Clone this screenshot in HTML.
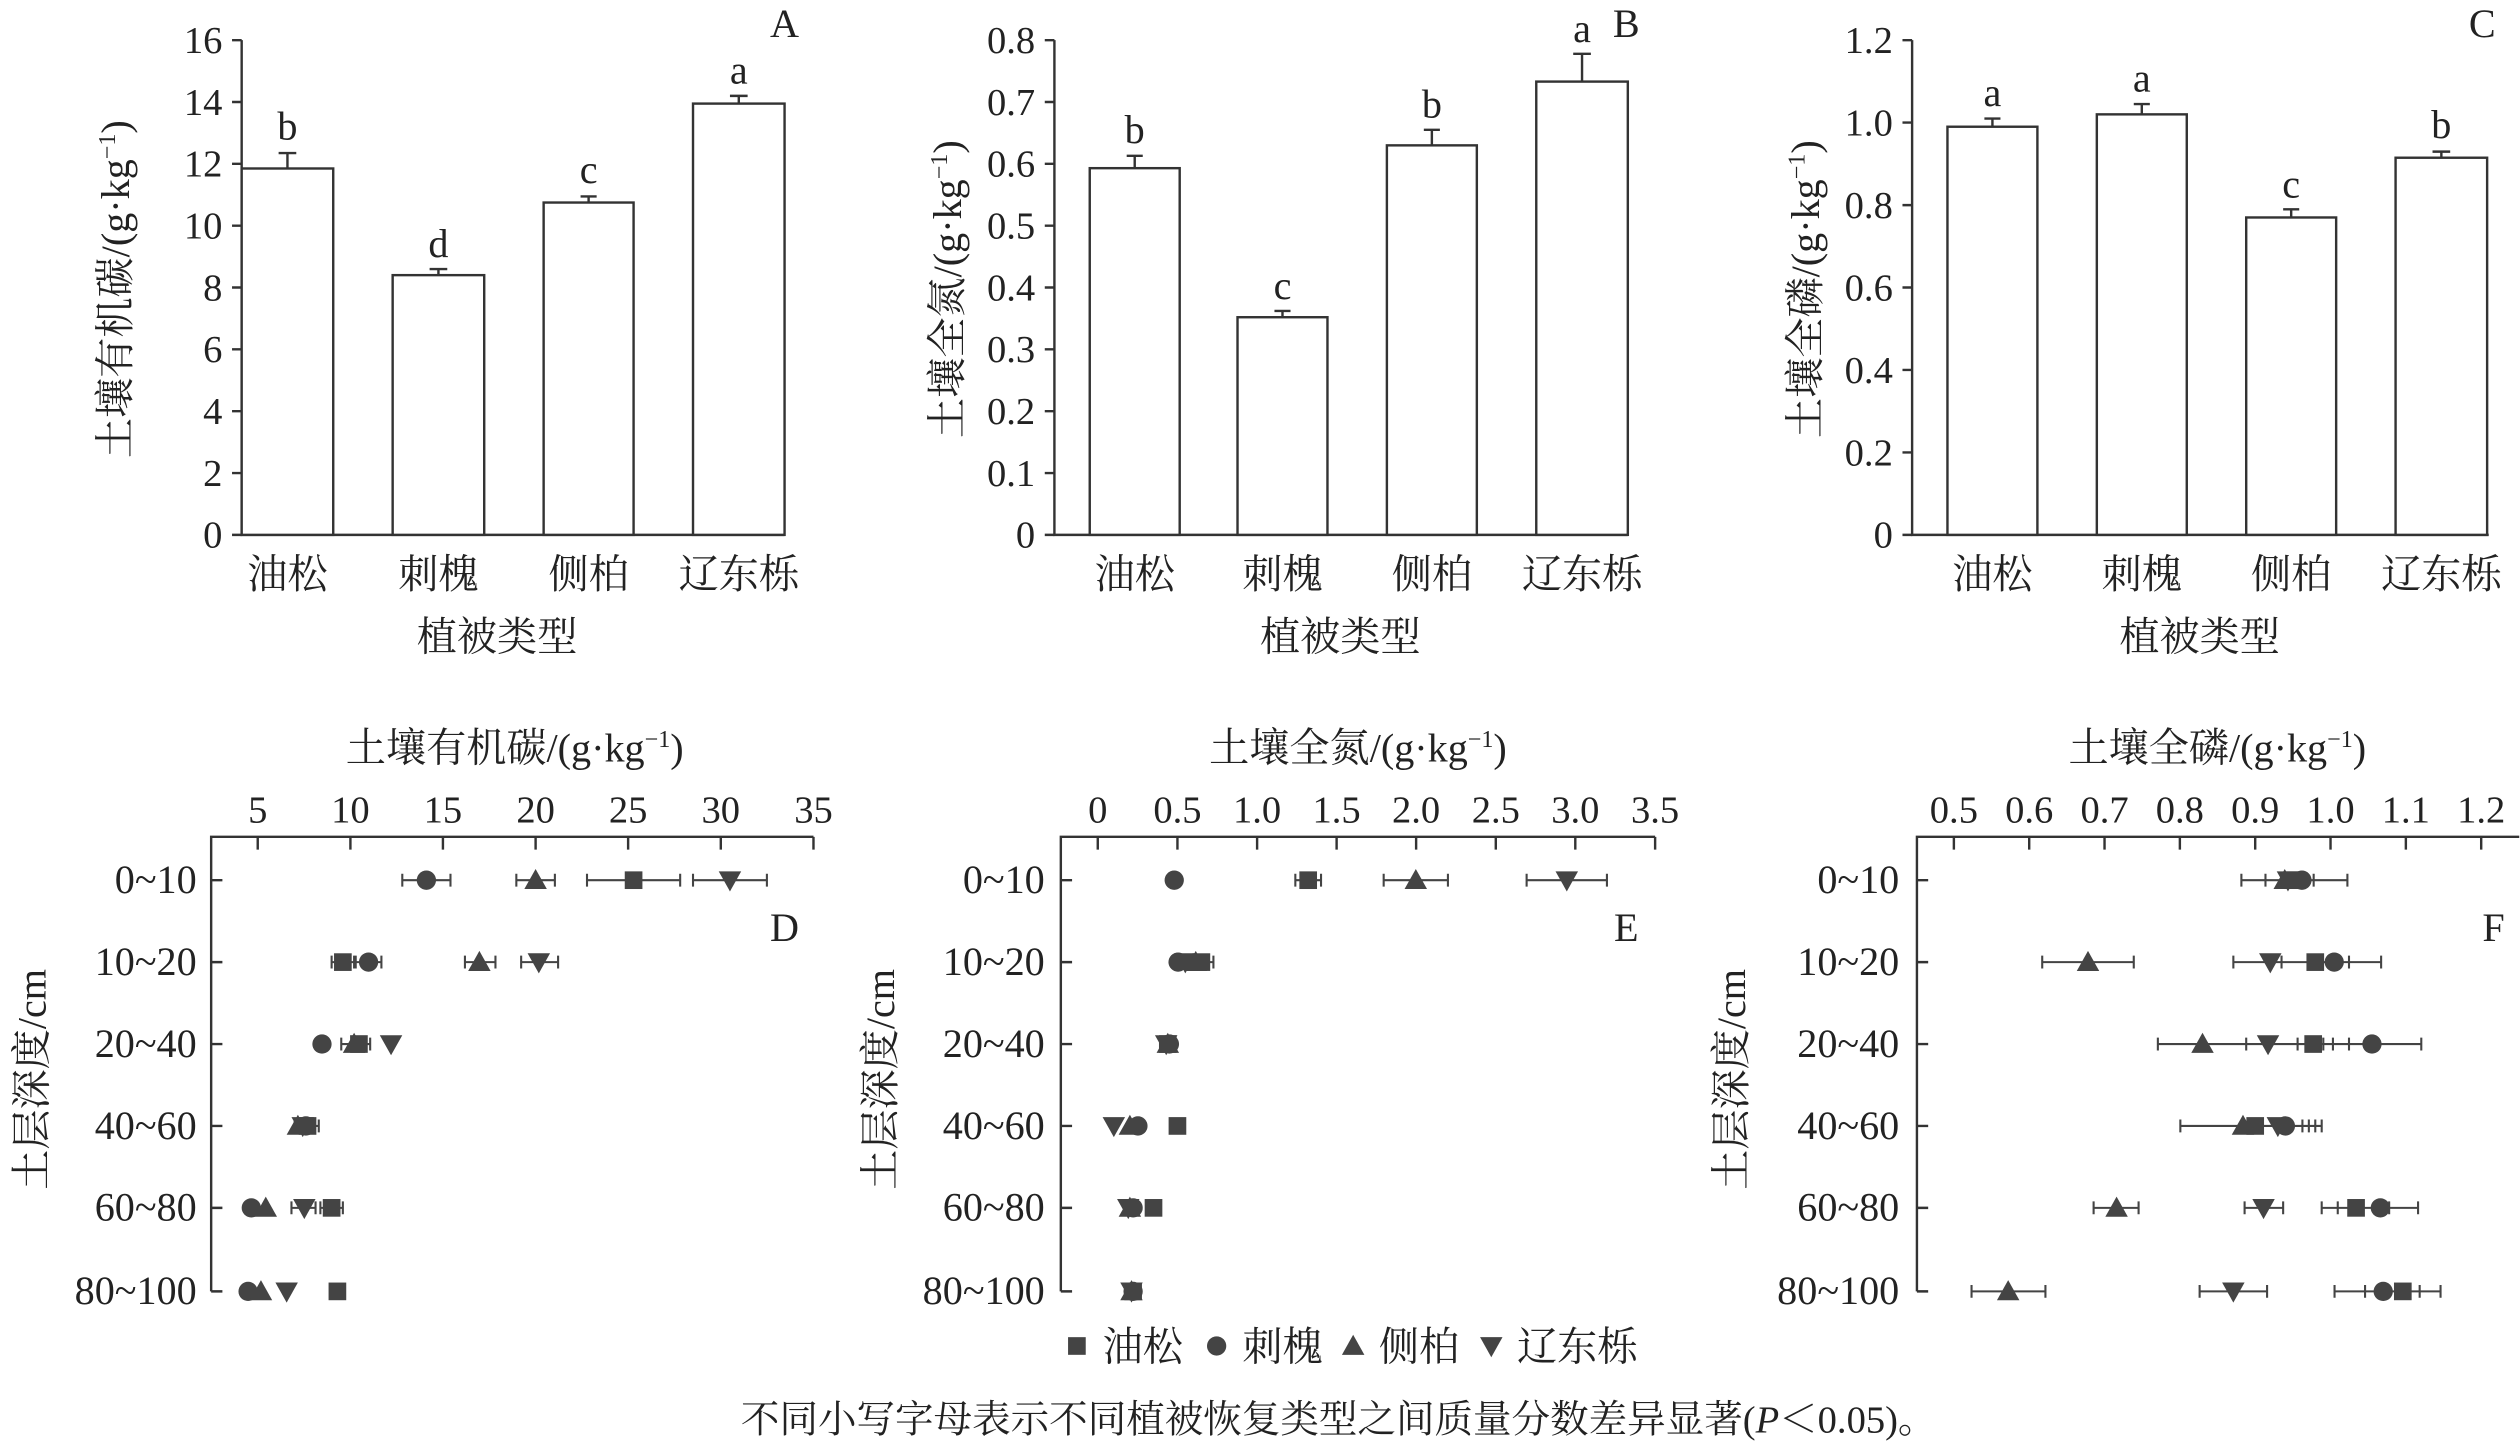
<!DOCTYPE html>
<html><head><meta charset="utf-8">
<style>
html,body{margin:0;padding:0;background:#fff;}
svg{display:block;}
svg text{font-family:'Liberation Serif','Noto Serif CJK SC',serif;fill:#222;}
</style></head>
<body>
<svg width="2520" height="1452" viewBox="0 0 1568 904" xmlns="http://www.w3.org/2000/svg" font-family="'Liberation Serif', 'Noto Serif CJK SC', serif">
<defs>
<rect id="sq" x="-5.5" y="-5.5" width="11" height="11" fill="#444"/>
<circle id="ci" r="6" fill="#444"/>
<path id="tu" d="M0,-7 L7,5.5 L-7,5.5Z" fill="#444"/>
<path id="td" d="M0,7 L7,-5.5 L-7,-5.5Z" fill="#444"/>
</defs>
<g stroke="#333" stroke-width="1.5" fill="none">
<path d="M150,25 V333 H488"/>
<path d="M144,333H150M144,294.5H150M144,256H150M144,217.5H150M144,179H150M144,140.5H150M144,102H150M144,63.5H150M144,25H150"/>
<path d="M656,25 V333 H1013"/>
<path d="M650,333H656M650,294.5H656M650,256H656M650,217.5H656M650,179H656M650,140.5H656M650,102H656M650,63.5H656M650,25H656"/>
<path d="M1190,25 V333 H1549"/>
<path d="M1184,333H1190M1184,281.7H1190M1184,230.3H1190M1184,179H1190M1184,127.7H1190M1184,76.3H1190M1184,25H1190"/>
</g>
<g stroke="#333" stroke-width="1.5" fill="#fff">
<rect x="150" y="104.9" width="57" height="228.1"/>
<rect x="244" y="171.3" width="57" height="161.7"/>
<rect x="338" y="126.1" width="56" height="206.9"/>
<rect x="431" y="64.5" width="57" height="268.5"/>
<rect x="678" y="104.7" width="56" height="228.3"/>
<rect x="770" y="197.5" width="56" height="135.5"/>
<rect x="863" y="90.5" width="56" height="242.5"/>
<rect x="956" y="50.8" width="57" height="282.2"/>
<rect x="1212" y="78.9" width="56" height="254.1"/>
<rect x="1305" y="71.2" width="56" height="261.8"/>
<rect x="1398" y="135.4" width="56" height="197.6"/>
<rect x="1491" y="98.2" width="57" height="234.8"/>
</g>
<g stroke="#333" stroke-width="1.5" fill="none">
<path d="M178.5,104.9V95.3M173,95.3H184"/>
<path d="M272.5,171.3V167.5M267,167.5H278"/>
<path d="M366,126.1V122.3M361,122.3H371"/>
<path d="M459.5,64.5V59.7M454,59.7H465"/>
<path d="M706,104.7V97M701,97H711"/>
<path d="M798,197.5V193.6M793,193.6H803"/>
<path d="M891,90.5V80.8M886,80.8H896"/>
<path d="M984.5,50.8V33.5M979,33.5H990"/>
<path d="M1240,78.9V73.8M1235,73.8H1245"/>
<path d="M1333,71.2V64.8M1328,64.8H1338"/>
<path d="M1426,135.4V130.3M1421,130.3H1431"/>
<path d="M1519.5,98.2V94.4M1514,94.4H1525"/>
</g>
<g font-size="25" text-anchor="middle">
<text x="178.5" y="87">b</text><text x="272.5" y="160">d</text><text x="366" y="114">c</text><text x="459.5" y="52">a</text>
<text x="706" y="89">b</text><text x="798" y="186">c</text><text x="891" y="73">b</text><text x="984.5" y="26">a</text>
<text x="1240" y="66">a</text><text x="1333" y="57">a</text><text x="1426" y="123">c</text><text x="1519.5" y="86">b</text>
<text x="488" y="23">A</text><text x="1012" y="23">B</text><text x="1545" y="23">C</text>
</g>
<g font-size="24" text-anchor="end">
<text x="138" y="341">0</text><text x="138" y="302.5">2</text><text x="138" y="264">4</text><text x="138" y="225.5">6</text><text x="138" y="187">8</text><text x="138" y="148.5">10</text><text x="138" y="110">12</text><text x="138" y="71.5">14</text><text x="138" y="33">16</text>
<text x="644" y="341">0</text><text x="644" y="302.5">0.1</text><text x="644" y="264">0.2</text><text x="644" y="225.5">0.3</text><text x="644" y="187">0.4</text><text x="644" y="148.5">0.5</text><text x="644" y="110">0.6</text><text x="644" y="71.5">0.7</text><text x="644" y="33">0.8</text>
<text x="1178" y="341">0</text><text x="1178" y="289.7">0.2</text><text x="1178" y="238.3">0.4</text><text x="1178" y="187">0.6</text><text x="1178" y="135.7">0.8</text><text x="1178" y="84.3">1.0</text><text x="1178" y="33">1.2</text>
</g>
<g font-size="25" text-anchor="middle">
<text x="178.5" y="366">油松</text><text x="272.5" y="366">刺槐</text><text x="366" y="366">侧柏</text><text x="459.5" y="366">辽东栎</text>
<text x="706" y="366">油松</text><text x="798" y="366">刺槐</text><text x="891" y="366">侧柏</text><text x="984.5" y="366">辽东栎</text>
<text x="1240" y="366">油松</text><text x="1333" y="366">刺槐</text><text x="1426" y="366">侧柏</text><text x="1519.5" y="366">辽东栎</text>
<text x="309" y="405">植被类型</text><text x="834" y="405">植被类型</text><text x="1369" y="405">植被类型</text>
</g>
<g font-size="25" text-anchor="middle">
<text transform="translate(80,180) rotate(-90)">土壤有机碳/(g·kg<tspan dy="-9" font-size="15">−1</tspan><tspan dy="9">)</tspan></text>
<text transform="translate(598,180) rotate(-90)">土壤全氮/(g·kg<tspan dy="-9" font-size="15">−1</tspan><tspan dy="9">)</tspan></text>
<text transform="translate(1132,180) rotate(-90)">土壤全磷/(g·kg<tspan dy="-9" font-size="15">−1</tspan><tspan dy="9">)</tspan></text>
</g>

<g stroke="#333" stroke-width="1.5" fill="none">
<path d="M131,804V521H506"/>
<path d="M160,521v8M217.7,521v8M275.3,521v8M333,521v8M390.6,521v8M448.3,521v8M506,521v8"/>
<path d="M131,548h7M131,599h7M131,650h7M131,701h7M131,752h7M131,804h7"/>
<path d="M660,804V521H1030"/>
<path d="M683,521v8M732.6,521v8M782.2,521v8M831.7,521v8M881.2,521v8M930.8,521v8M980.3,521v8M1030,521v8"/>
<path d="M660,548h7M660,599h7M660,650h7M660,701h7M660,752h7M660,804h7"/>
<path d="M1193,804V521H1568"/>
<path d="M1216,521v8M1262.9,521v8M1309.8,521v8M1356.7,521v8M1403.6,521v8M1450.5,521v8M1497.4,521v8M1544.3,521v8"/>
<path d="M1193,548h7M1193,599h7M1193,650h7M1193,701h7M1193,752h7M1193,804h7"/>
</g>
<g font-size="24" text-anchor="middle">
<text x="160" y="512">5</text><text x="217.7" y="512">10</text><text x="275.3" y="512">15</text><text x="333" y="512">20</text><text x="390.6" y="512">25</text><text x="448.3" y="512">30</text><text x="506" y="512">35</text>
<text x="683" y="512">0</text><text x="732.6" y="512">0.5</text><text x="782.2" y="512">1.0</text><text x="831.7" y="512">1.5</text><text x="881.2" y="512">2.0</text><text x="930.8" y="512">2.5</text><text x="980.3" y="512">3.0</text><text x="1030" y="512">3.5</text>
<text x="1216" y="512">0.5</text><text x="1262.9" y="512">0.6</text><text x="1309.8" y="512">0.7</text><text x="1356.7" y="512">0.8</text><text x="1403.6" y="512">0.9</text><text x="1450.5" y="512">1.0</text><text x="1497.4" y="512">1.1</text><text x="1544.3" y="512">1.2</text>
</g>
<g font-size="25" text-anchor="middle">
<text x="320" y="474">土壤有机碳/(g·kg<tspan dy="-9" font-size="15">−1</tspan><tspan dy="9">)</tspan></text>
<text x="845" y="474">土壤全氮/(g·kg<tspan dy="-9" font-size="15">−1</tspan><tspan dy="9">)</tspan></text>
<text x="1380" y="474">土壤全磷/(g·kg<tspan dy="-9" font-size="15">−1</tspan><tspan dy="9">)</tspan></text>
<text transform="translate(28,672) rotate(-90)">土层深度/cm</text>
<text transform="translate(556,672) rotate(-90)">土层深度/cm</text>
<text transform="translate(1086,672) rotate(-90)">土层深度/cm</text>
<text x="488" y="586">D</text><text x="1012" y="586">E</text><text x="1552" y="586">F</text>
</g>
<g font-size="25" text-anchor="end">
<text x="122" y="556">0~10</text><text x="122" y="607">10~20</text><text x="122" y="658">20~40</text><text x="122" y="709">40~60</text><text x="122" y="760">60~80</text><text x="122" y="812">80~100</text>
<text x="650" y="556">0~10</text><text x="650" y="607">10~20</text><text x="650" y="658">20~40</text><text x="650" y="709">40~60</text><text x="650" y="760">60~80</text><text x="650" y="812">80~100</text>
<text x="1182" y="556">0~10</text><text x="1182" y="607">10~20</text><text x="1182" y="658">20~40</text><text x="1182" y="709">40~60</text><text x="1182" y="760">60~80</text><text x="1182" y="812">80~100</text>
</g>

<g stroke="#444" stroke-width="1.3" fill="none">
<path d="M250,548H280M250,544v8M280,544v8"/>
<path d="M321,548H345M321,544v8M345,544v8"/>
<path d="M365,548H423M365,544v8M423,544v8"/>
<path d="M431,548H477M431,544v8M477,544v8"/>
<path d="M206,599H220M206,595v8M220,595v8"/>
<path d="M221,599H237M221,595v8M237,595v8"/>
<path d="M289,599H308M289,595v8M308,595v8"/>
<path d="M324,599H347M324,595v8M347,595v8"/>
<path d="M212,650H230M212,646v8M230,646v8"/>
<path d="M183,701H198M183,697v8M198,697v8"/>
<path d="M181,752H196M181,748v8M196,748v8"/>
<path d="M199,752H213M199,748v8M213,748v8"/>
<path d="M205,804H214M205,800v8M214,800v8"/>
<path d="M806,548H822M806,544v8M822,544v8"/>
<path d="M861,548H901M861,544v8M901,544v8"/>
<path d="M950,548H1000M950,544v8M1000,544v8"/>
<path d="M740,599H755M740,595v8M755,595v8"/>
<path d="M1395,548H1461M1395,544v8M1461,544v8M1410,544v8M1440,544v8"/>
<path d="M1271,599H1328M1271,595v8M1328,595v8"/>
<path d="M1390,599H1482M1390,595v8M1482,595v8M1420,595v8M1462,595v8"/>
<path d="M1343,650H1507M1343,646v8M1507,646v8M1398,646v8M1430,646v8M1446,646v8M1452,646v8M1462,646v8"/>
<path d="M1357,701H1445M1357,697v8M1445,697v8M1441,697v8M1437,697v8M1433,697v8"/>
<path d="M1303,752H1331M1303,748v8M1331,748v8"/>
<path d="M1397,752H1421M1397,748v8M1421,748v8"/>
<path d="M1445,752H1505M1445,748v8M1505,748v8M1455,748v8M1487,748v8"/>
<path d="M1227,804H1273M1227,800v8M1273,800v8"/>
<path d="M1369,804H1411M1369,800v8M1411,800v8"/>
<path d="M1453,804H1519M1453,800v8M1519,800v8M1472,800v8M1506,800v8"/>
</g>

<use href="#ci" x="265" y="548"/><use href="#tu" x="333" y="548"/><use href="#sq" x="394" y="548"/><use href="#td" x="454" y="548"/>
<use href="#sq" x="213" y="599"/><use href="#ci" x="229" y="599"/><use href="#tu" x="298" y="599"/><use href="#td" x="335" y="599"/>
<use href="#ci" x="200" y="650"/><use href="#tu" x="220" y="650"/><use href="#sq" x="223" y="650"/><use href="#td" x="243" y="650"/>
<use href="#tu" x="185" y="701"/><use href="#td" x="188" y="701"/><use href="#sq" x="191" y="701"/><use href="#ci" x="190" y="701"/>
<use href="#ci" x="156" y="752"/><use href="#tu" x="165" y="752"/><use href="#td" x="189" y="752"/><use href="#sq" x="206" y="752"/>
<use href="#ci" x="154" y="804"/><use href="#tu" x="162" y="804"/><use href="#td" x="178" y="804"/><use href="#sq" x="209.6" y="804"/>
<use href="#ci" x="730.6" y="548"/><use href="#sq" x="814" y="548"/><use href="#tu" x="881" y="548"/><use href="#td" x="975" y="548"/>
<use href="#ci" x="733" y="599"/><use href="#td" x="737.5" y="599"/><use href="#tu" x="744" y="599"/><use href="#sq" x="747.5" y="599"/>
<use href="#ci" x="727.6" y="650"/><use href="#td" x="725.6" y="650"/><use href="#sq" x="726.6" y="650"/><use href="#tu" x="726.6" y="650"/>
<use href="#td" x="693" y="701"/><use href="#tu" x="703" y="701"/><use href="#ci" x="708" y="701"/><use href="#sq" x="732.6" y="701"/>
<use href="#td" x="702" y="752"/><use href="#tu" x="703" y="752"/><use href="#ci" x="705" y="752"/><use href="#sq" x="717.7" y="752"/>
<use href="#sq" x="705" y="804"/><use href="#td" x="704" y="804"/><use href="#tu" x="704" y="804"/><use href="#ci" x="705" y="804"/>
<use href="#tu" x="1422" y="548"/><use href="#td" x="1424" y="548"/><use href="#sq" x="1427" y="548"/><use href="#ci" x="1432.7" y="548"/>
<use href="#tu" x="1299.5" y="599"/><use href="#td" x="1413" y="599"/><use href="#sq" x="1441" y="599"/><use href="#ci" x="1452.8" y="599"/>
<use href="#tu" x="1370.8" y="650"/><use href="#td" x="1411.6" y="650"/><use href="#sq" x="1439.7" y="650"/><use href="#ci" x="1476.3" y="650"/>
<use href="#tu" x="1396" y="701"/><use href="#sq" x="1403.6" y="701"/><use href="#td" x="1417.7" y="701"/><use href="#ci" x="1422.4" y="701"/>
<use href="#tu" x="1317.3" y="752"/><use href="#td" x="1408.8" y="752"/><use href="#sq" x="1466.4" y="752"/><use href="#ci" x="1481.5" y="752"/>
<use href="#tu" x="1249.8" y="804"/><use href="#td" x="1390" y="804"/><use href="#ci" x="1483.3" y="804"/><use href="#sq" x="1495.5" y="804"/>

<use href="#sq" x="670" y="838"/><text x="686" y="847" font-size="25">油松</text>
<use href="#ci" x="757" y="838"/><text x="773" y="847" font-size="25">刺槐</text>
<use href="#tu" x="842" y="838"/><text x="858" y="847" font-size="25">侧柏</text>
<use href="#td" x="928" y="838"/><text x="944" y="847" font-size="25">辽东栎</text>
<text x="833" y="892" font-size="24" text-anchor="middle">不同小写字母表示不同植被恢复类型之间质量分数差异显著(<tspan font-style="italic">P</tspan>＜0.05)。</text>
</svg>
</body></html>
